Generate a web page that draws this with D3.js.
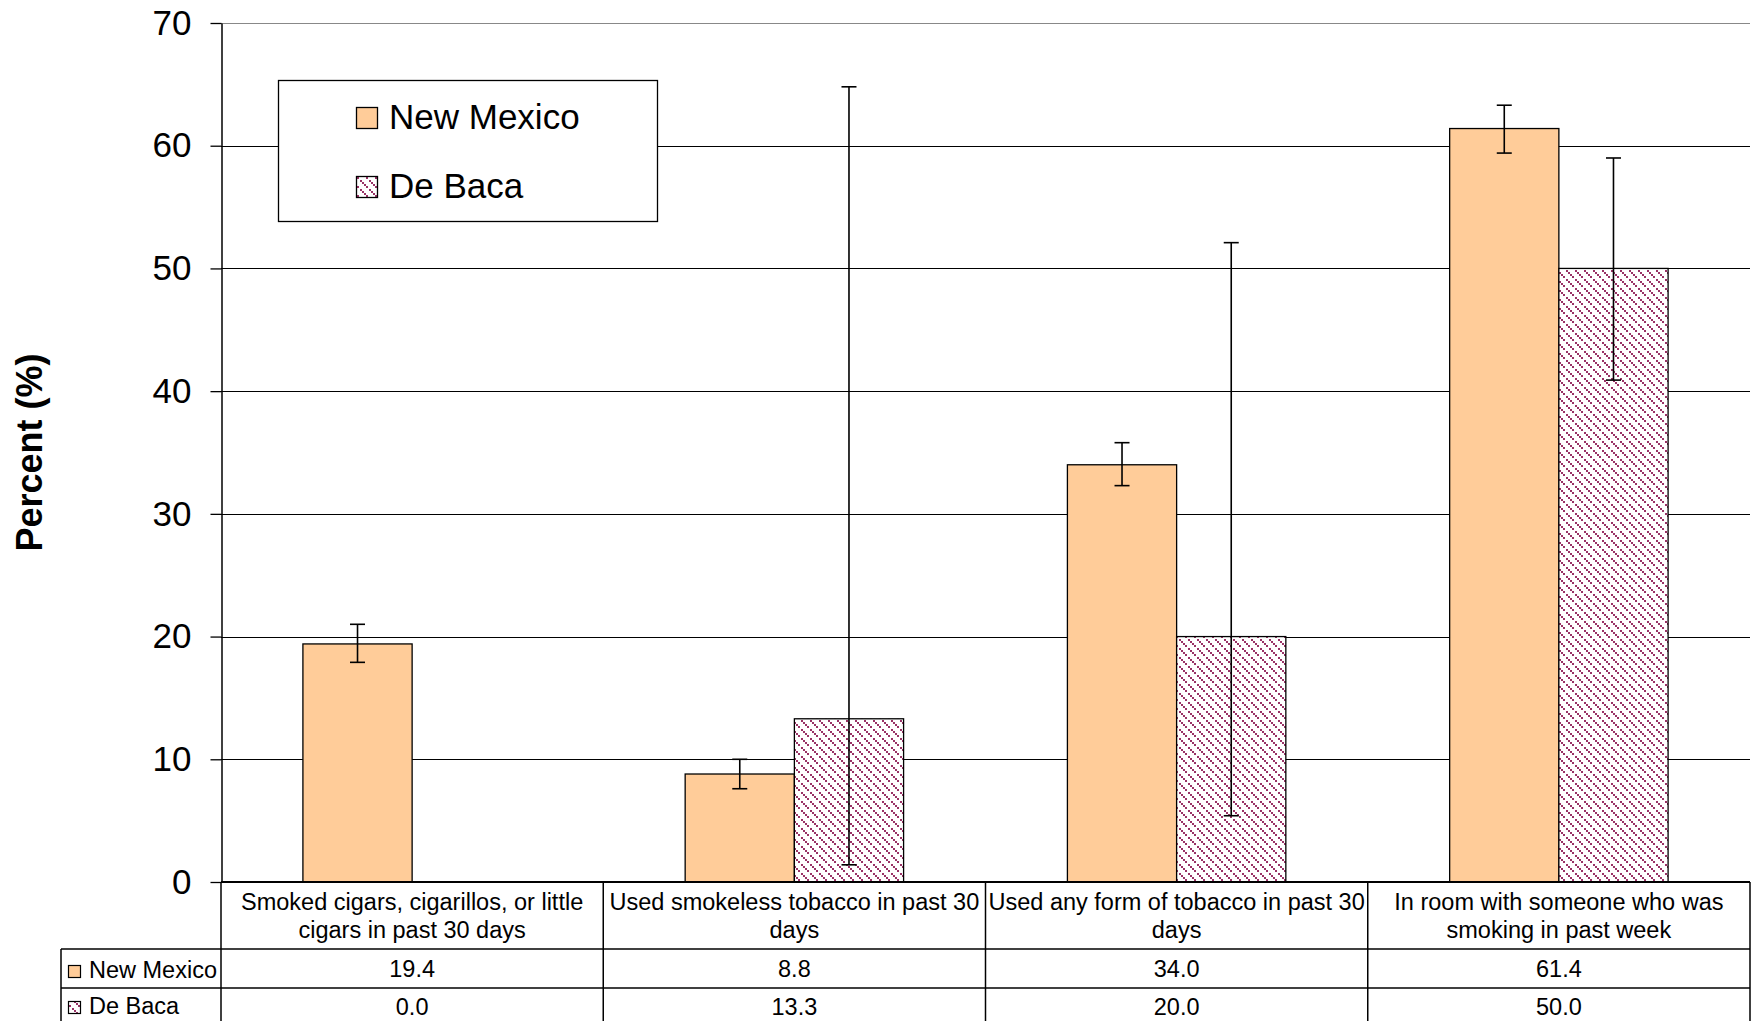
<!DOCTYPE html>
<html>
<head>
<meta charset="utf-8">
<script src="https://cdn.jsdelivr.net/npm/d3@7"></script>
<style>
  html, body { margin: 0; padding: 0; background: #fff; }
  svg { display: block; }
  text { font-family: "Liberation Sans", Arial, sans-serif; fill: #000; }
</style>
</head>
<body>
<svg id="chart" width="1752" height="1021"></svg>
<script>
// ---- data ----
const categories = [
  "Smoked cigars, cigarillos, or little cigars in past 30 days",
  "Used smokeless tobacco in past 30 days",
  "Used any form of tobacco in past 30 days",
  "In room with someone who was smoking in past week"
];
const categoryLines = [
  ["Smoked cigars, cigarillos, or little", "cigars in past 30 days"],
  ["Used smokeless tobacco in past 30", "days"],
  ["Used any form of tobacco in past 30", "days"],
  ["In room with someone who was", "smoking in past week"]
];
const seriesNames = ["New Mexico", "De Baca"];
const newMexico = [19.4, 8.8, 34.0, 61.4];
const deBaca = [0.0, 13.3, 20.0, 50.0];
const newMexicoLow = [17.9, 7.6, 32.3, 59.4];
const newMexicoHigh = [21.0, 10.0, 35.8, 63.3];
const deBacaLow = [null, 1.4, 5.4, 40.9];
const deBacaHigh = [null, 64.8, 52.1, 59.0];
const yTicks = [0, 10, 20, 30, 40, 50, 60, 70];
const yTitle = "Percent (%)";

// ---- layout ----
const svg = d3.select("#chart");
const W = 1752, H = 1021;
const plotL = 221, plotR = 1750, plotT = 23, plotB = 882;
const catRowB = 949, nmRowB = 988, dbRowB = 1027, tableL = 61;
const nmColor = "#FFCC99", dbColor = "#993366";

svg.append("rect").attr("width", W).attr("height", H).attr("fill", "#fff");

// pattern
const defs = svg.append("defs");
const pat = defs.append("pattern").attr("id", "diag")
  .attr("patternUnits", "userSpaceOnUse").attr("width", 9).attr("height", 9);
pat.append("rect").attr("width", 9).attr("height", 9).attr("fill", "#fff");
[0, 2, 4, 6].forEach(k => {
  pat.append("rect").attr("x", k).attr("y", k).attr("width", 2).attr("height", 2).attr("fill", dbColor);
});

const x = d3.scaleBand().domain(categories).range([plotL, plotR]).paddingInner(0).paddingOuter(0);
const y = d3.scaleLinear().domain([0, 70]).range([plotB, plotT]);
const barW = x.bandwidth() / 3.5;
const off = barW * 0.75;

// gridlines
svg.append("g").selectAll("line").data(yTicks.filter(t => t > 0)).join("line")
  .attr("x1", plotL).attr("x2", plotR)
  .attr("y1", d => Math.round(y(d)) + 0.5).attr("y2", d => Math.round(y(d)) + 0.5)
  .attr("stroke", d => d === 70 ? "#888" : "#000").attr("stroke-width", 1.2);

// bars
const nmData = categories.map((c, i) => ({ c, v: newMexico[i], lo: newMexicoLow[i], hi: newMexicoHigh[i] }));
const dbData = categories.map((c, i) => ({ c, v: deBaca[i], lo: deBacaLow[i], hi: deBacaHigh[i] }));

svg.append("g").selectAll("rect").data(nmData).join("rect")
  .attr("x", d => x(d.c) + off).attr("width", barW)
  .attr("y", d => y(d.v)).attr("height", d => y(0) - y(d.v))
  .attr("fill", nmColor).attr("stroke", "#000").attr("stroke-width", 1.3);

svg.append("g").selectAll("rect").data(dbData.filter(d => d.v > 0)).join("rect")
  .attr("x", d => x(d.c) + off + barW).attr("width", barW)
  .attr("y", d => y(d.v)).attr("height", d => y(0) - y(d.v))
  .attr("fill", "url(#diag)").attr("stroke", "#000").attr("stroke-width", 1.3);

// error bars
function errorBars(data, shift) {
  const g = svg.append("g").attr("stroke", "#000").attr("stroke-width", 1.6);
  data.filter(d => d.lo !== null).forEach(d => {
    const cx = x(d.c) + off + shift + barW / 2;
    g.append("line").attr("x1", cx).attr("x2", cx).attr("y1", y(d.lo)).attr("y2", y(d.hi));
    [d.lo, d.hi].forEach(v => {
      g.append("line").attr("x1", cx - 7.5).attr("x2", cx + 7.5).attr("y1", y(v)).attr("y2", y(v));
    });
  });
}
errorBars(nmData, 0);
errorBars(dbData, barW);

// y axis
const yAxis = d3.axisLeft(y).tickValues(yTicks).tickSize(11).tickSizeOuter(0).tickPadding(19);
const ag = svg.append("g").attr("transform", `translate(${plotL + 0.5},0)`).call(yAxis);
ag.select(".domain").attr("stroke", "#000").attr("stroke-width", 1.5);
ag.selectAll(".tick line").attr("stroke", "#000").attr("stroke-width", 1.3);
ag.selectAll(".tick text").attr("font-size", 35).attr("fill", "#000")
  .style("font-family", '"Liberation Sans", Arial, sans-serif');

// y title
svg.append("text").attr("transform", `translate(42,${(plotT + plotB) / 2}) rotate(-90)`)
  .attr("text-anchor", "middle").attr("font-size", 36).attr("font-weight", "bold").text(yTitle);

// legend
const lg = svg.append("g");
lg.append("rect").attr("x", 278.5).attr("y", 80.5).attr("width", 379).attr("height", 141)
  .attr("fill", "#fff").attr("stroke", "#000").attr("stroke-width", 1.3);
const legendFills = [nmColor, "url(#diag)"];
seriesNames.forEach((s, i) => {
  const yy = 107 + i * 69;
  lg.append("rect").attr("x", 356.5).attr("y", yy + 0.5).attr("width", 21).attr("height", 21)
    .attr("fill", legendFills[i]).attr("stroke", "#000").attr("stroke-width", 1.3);
  lg.append("text").attr("x", 389).attr("y", yy + 22).attr("font-size", 35).text(s);
});

// data table
const tg = svg.append("g").attr("stroke", "#000").attr("stroke-width", 1.5);
tg.append("line").attr("x1", plotL).attr("x2", plotR).attr("y1", plotB).attr("y2", plotB).attr("stroke-width", 2);
[catRowB, nmRowB].forEach(yy => tg.append("line").attr("x1", tableL).attr("x2", plotR).attr("y1", yy).attr("y2", yy));
tg.append("line").attr("x1", tableL).attr("x2", tableL).attr("y1", catRowB).attr("y2", dbRowB);
const colEdges = categories.map(c => x(c)).concat([plotR]);
colEdges.forEach(xx => tg.append("line").attr("x1", xx).attr("x2", xx).attr("y1", plotB).attr("y2", dbRowB));
tg.append("line").attr("x1", tableL).attr("x2", plotR).attr("y1", dbRowB).attr("y2", dbRowB);

const tt = svg.append("g").attr("font-size", 23.5);
categories.forEach((c, i) => {
  const cx = x(c) + x.bandwidth() / 2;
  categoryLines[i].forEach((ln, k) => {
    tt.append("text").attr("x", cx).attr("y", 910 + k * 28).attr("text-anchor", "middle").text(ln);
  });
  tt.append("text").attr("x", cx).attr("y", 977).attr("text-anchor", "middle").text(newMexico[i].toFixed(1));
  tt.append("text").attr("x", cx).attr("y", 1015).attr("text-anchor", "middle").text(deBaca[i].toFixed(1));
});
seriesNames.forEach((s, i) => {
  const yy = i === 0 ? 965 : 1001;
  svg.append("rect").attr("x", 68.5).attr("y", yy + 0.5).attr("width", 12).attr("height", 12)
    .attr("fill", legendFills[i]).attr("stroke", "#000").attr("stroke-width", 1.2);
  tt.append("text").attr("x", 89).attr("y", yy + 13).text(s);
});
</script>
</body>
</html>
